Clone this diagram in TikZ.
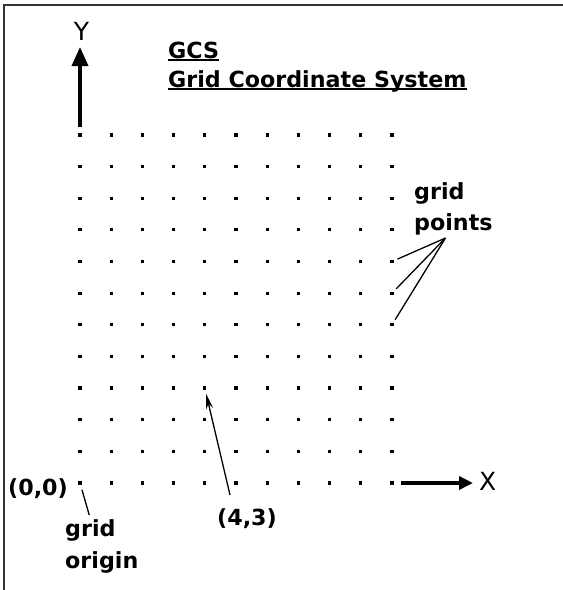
\documentclass[tikz,border=0pt]{standalone}
\usepackage{fontspec}
\setmainfont{DejaVu Sans}
\usetikzlibrary{arrows.meta}
\tikzset{
  dot/.style={rectangle,fill=black,minimum size=3.2pt,inner sep=0pt},
  lbl/.style={inner sep=0pt,font=\fontsize{22.2}{26}\selectfont\bfseries},
  axlbl/.style={inner sep=0pt,font=\fontsize{25}{30}\selectfont},
  axis/.style={line width=3.4pt},
  thinline/.style={line width=1.3pt},
  uline/.style={line width=2pt},
  frame/.style={line width=2pt,draw=black!80}
}
\begin{document}
\begin{tikzpicture}[x=1pt,y=-1pt]
\useasboundingbox (0,0) rectangle (563,590);
% frame (top and left edges)
\draw[frame] (4,590) -- (4,5) -- (563,5);
% grid points
\foreach \i in {0,...,10}{
  \foreach \j in {0,...,11}{
    \node[dot] (g-\i-\j) at ({80+31.2*\i},{483-31.64*\j}) {};
  }
}
% title
\node[lbl,anchor=base west] (gcs) at (168,58) {GCS};
\node[lbl,anchor=base west] (gcsname) at (168,87) {Grid Coordinate System};
\draw[uline] ([yshift=-2.3pt]gcs.base west) -- ([yshift=-2.3pt]gcs.base east);
\draw[uline] ([yshift=-2.3pt]gcsname.base west) -- ([yshift=-2.3pt]gcsname.base east);
% axes
\node[axlbl,anchor=base] (ylbl) at (81.5,40) {Y};
\node[axlbl,anchor=base] (xlbl) at (487.7,490) {X};
\coordinate (ytip) at (80,47);
\coordinate (xtip) at (473,483);
\draw[axis,-{Triangle[length=19pt,width=16pt]}] ([yshift=8pt]g-0-11.center) -- (ytip);
\draw[axis,-{Triangle[length=14pt,width=13pt]}] ([xshift=9pt]g-10-0.center) -- (xtip);
% grid points label
\node[lbl,anchor=base west] (gp1) at (414,199) {grid};
\node[lbl,anchor=base west] (gp2) at (414,230) {points};
\coordinate (gpc) at (445.5,238);
\foreach \j in {5,6,7}{
  \draw[thinline,shorten >=6pt] (gpc) -- (g-10-\j.center);
}
% origin labels
\node[lbl,anchor=base] (l00) at (38,495) {(0,0)};
\node[lbl,anchor=base west] (og1) at (65,536) {grid};
\node[lbl,anchor=base west] (og2) at (65,568) {origin};
\draw[thinline,shorten <=7pt,shorten >=4pt] (g-0-0.center) -- (og1.north);
% (4,3) label
\node[lbl,anchor=base] (l43) at (247,525) {(4,3)};
\draw[thinline,-{Stealth[length=15pt,width=7pt]},shorten >=6pt] ([shift={(-17pt,13pt)}]l43.north) -- (g-4-3.center);
\end{tikzpicture}
\end{document}
